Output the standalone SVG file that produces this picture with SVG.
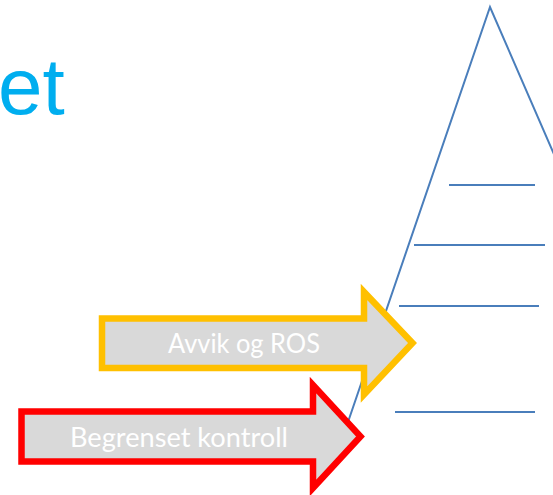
<svg xmlns="http://www.w3.org/2000/svg" width="553" height="495" viewBox="0 0 553 495">
<style>
.tri{fill:none;stroke:#4A7EBB;stroke-width:2;stroke-linecap:butt}
.arrow{fill:#D9D9D9;stroke-width:6.5;stroke-linejoin:miter;stroke-miterlimit:10}
.lbl{font-family:Lato,"Liberation Sans",Arial,sans-serif;font-size:26px;fill:#FFFFFF;text-anchor:middle}
</style>
<rect width="553" height="495" fill="#FFFFFF"/>
<g id="title">
<text x="-2" y="114" font-family="Liberation Sans, Arial, sans-serif" font-size="80" fill="#00AEEF">et</text>
</g>
<g id="pyramid">
<polyline class="tri" points="335,460 490,7 610,283"/>
<line class="tri" x1="449" y1="185" x2="535" y2="185"/>
<line class="tri" x1="414" y1="245" x2="545" y2="245"/>
<line class="tri" x1="399" y1="306" x2="539" y2="306"/>
<line class="tri" x1="395" y1="412" x2="535" y2="412"/>
</g>
<g id="connectors"></g>
<g id="arrow-avvik">
<path class="arrow" stroke="#FFC000" d="M102,318.5 L364,318.5 L364,292 L412.5,343 L364,394.5 L364,368 L102,368 Z"/>
<text class="lbl" x="244" y="353" textLength="152" lengthAdjust="spacingAndGlyphs">Avvik og ROS</text>
</g>
<g id="arrow-begrenset">
<path class="arrow" stroke="#FF0000" d="M21.5,411.5 L313,411.5 L313,385 L360.5,436.5 L313,488 L313,461.5 L21.5,461.5 Z"/>
<text class="lbl" x="179" y="447" textLength="218" lengthAdjust="spacingAndGlyphs">Begrenset kontroll</text>
</g>
</svg>
